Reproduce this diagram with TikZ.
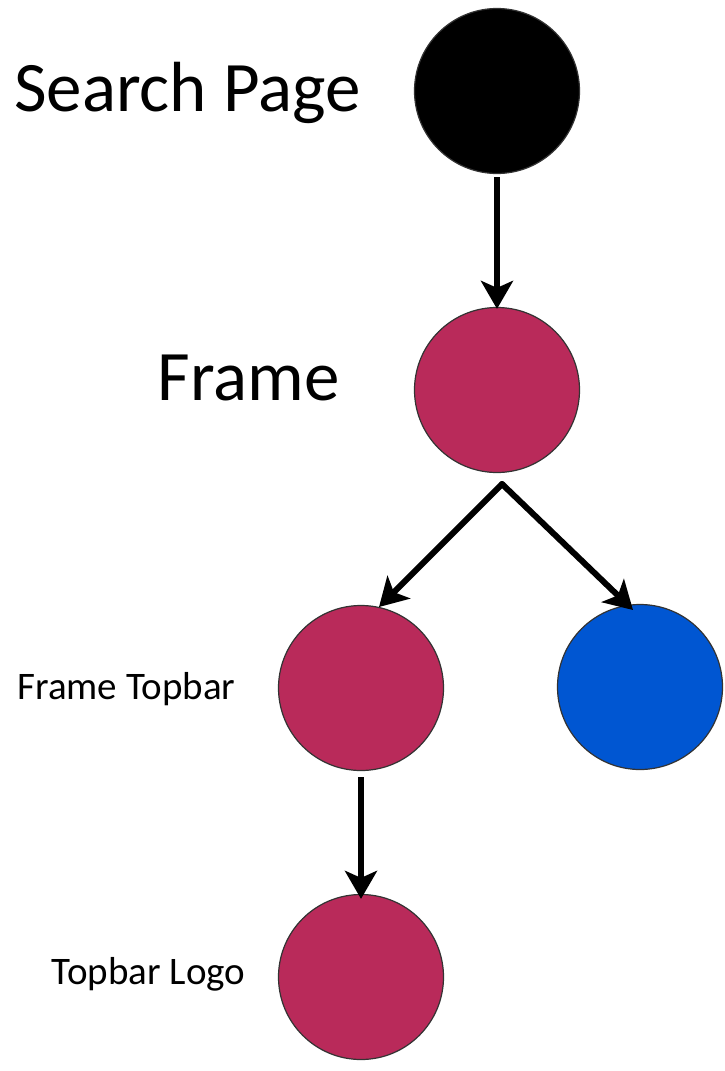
\documentclass[tikz,border=0pt]{standalone}
\usepackage{fontspec}
\setmainfont{Carlito}
\usetikzlibrary{arrows.meta}
\definecolor{crimson}{RGB}{185,42,90}
\definecolor{royal}{RGB}{0,86,210}

\begin{document}
\begin{tikzpicture}[x=1pt, y=-1pt,
	main/.style = {draw=black!80, line width=1.2pt, circle, minimum size=165pt, inner sep=0pt},
	edge/.style = {line width=6pt, -{Stealth[length=28pt, width=32pt, inset=7pt]}},
	big/.style = {anchor=east, font=\fontsize{71}{85}\selectfont},
	small/.style = {anchor=east, font=\fontsize{39}{47}\selectfont}]
		\useasboundingbox (0,0) rectangle (725,1071);
		\node (1) [main, fill=black]   at (497,91)  {};
		\node (2) [main, fill=crimson] at (497,390) {};
		\node (3) [main, fill=crimson] at (361,688) {};
		\node (4) [main, fill=royal]   at (640,687) {};
		\node (5) [main, fill=crimson] at (361,977) {};
		\node (a) [big]   at (364,93)  {Search Page};
		\node (b) [big]   at (343,378) {Frame};
		\node (c) [small] at (239,689) {Frame Topbar};
		\node (d) [small] at (249,974) {Topbar Logo};
		\coordinate (s) at (502,484);
		\coordinate (t3) at (379,607);
		\coordinate (t4) at (633,610);
		\draw[edge, shorten <=3pt, shorten >=-2pt] (1) -- (2);
		\draw[edge, line cap=round] (s) -- (t3);
		\draw[edge, line cap=round] (s) -- (t4);
		\draw[edge, shorten <=6pt, shorten >=-5pt] (3) -- (5);
	\end{tikzpicture}
\end{document}
